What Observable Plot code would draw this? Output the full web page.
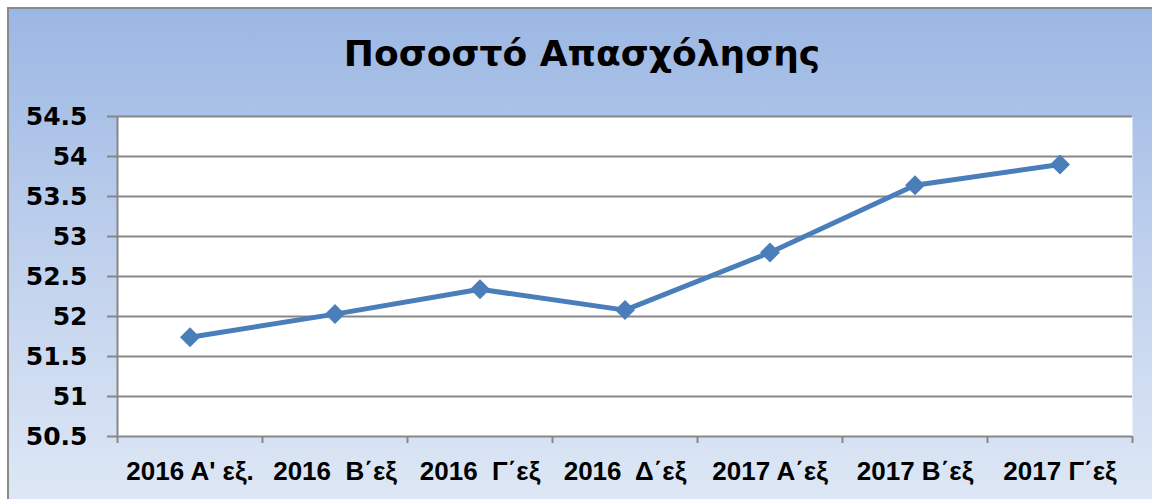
<!DOCTYPE html>
<html>
<head>
<meta charset="utf-8">
<script src="https://cdn.jsdelivr.net/npm/d3@7"></script>
<script src="https://cdn.jsdelivr.net/npm/@observablehq/plot@0.6"></script>
<style>
  body { margin: 0; background: white; }
  #wrap { position: relative; width: 1152px; height: 499px; background: white; overflow: hidden; }
  #bg { position: absolute; left: 7px; top: 7px; right: 0; bottom: 0;
        border-left: 2px solid #8a8a8a; border-top: 2px solid #8a8a8a;
        background: linear-gradient(to bottom, #9bb7e3 0%, #c3d3ee 55%, #dde7f5 100%); }
  #title { position: absolute; left: 0; width: 1164px; top: 33px; text-align: center;
           font-family: "DejaVu Sans", sans-serif; font-weight: bold; font-size: 36px; color: #000; }
  #chart { position: absolute; left: 0; top: 0; }
  #chart svg { white-space: pre; }
</style>
</head>
<body>
<div id="wrap">
  <div id="bg"></div>
  <div id="title">Ποσοστό Απασχόλησης</div>
  <div id="chart"></div>
</div>
<script>
const title = "Ποσοστό Απασχόλησης";
const categories = ["2016 Α' εξ.", "2016  Β΄εξ", "2016  Γ΄εξ", "2016  Δ΄εξ", "2017 Α΄εξ", "2017 Β΄εξ", "2017 Γ΄εξ"];
const values = [51.74, 52.03, 52.34, 52.08, 52.80, 53.64, 53.90];
const yTicks = [50.5, 51, 51.5, 52, 52.5, 53, 53.5, 54, 54.5];

document.getElementById("title").textContent = title;

const data = categories.map((c, i) => ({cat: c, pos: i + 0.5, value: values[i]}));
const boundaries = d3.range(categories.length + 1);
const centers = data.map(d => d.pos);
const gray = "#878787";
const blue = "#4a7ebb";

const chart = Plot.plot({
  width: 1152,
  height: 499,
  marginLeft: 117,
  marginRight: 20,
  marginTop: 116,
  marginBottom: 63,
  style: {background: "transparent", overflow: "visible"},
  x: {domain: [0, categories.length], axis: null, label: null},
  y: {domain: [50.5, 54.5], axis: null, label: null},
  marks: [
    Plot.frame({fill: "white", stroke: null}),
    Plot.ruleY(yTicks, {stroke: gray, strokeWidth: 2}),
    Plot.axisY({ticks: yTicks, tickSize: 10, tickPadding: 20, tickFormat: d => String(d), label: null,
      stroke: gray, strokeWidth: 2, fill: "black",
      fontFamily: "DejaVu Sans", fontWeight: "bold", fontSize: 25}),
    Plot.ruleX([0], {y1: 50.5, y2: 54.5, stroke: gray, strokeWidth: 2}),
    Plot.axisX({ticks: boundaries, tickSize: 7, tickFormat: () => "", label: null, stroke: gray, strokeWidth: 2}),
    Plot.axisX({ticks: centers, tickSize: 0, tickPadding: 25, label: null,
      tickFormat: p => categories[Math.floor(p)], fill: "black",
      fontFamily: "Liberation Sans", fontWeight: "bold", fontSize: 26}),
    Plot.lineY(data, {x: "pos", y: "value", stroke: blue, strokeWidth: 5}),
    Plot.dot(data, {x: "pos", y: "value", symbol: "diamond2", r: 9, fill: blue, stroke: null})
  ]
});
document.getElementById("chart").appendChild(chart);
</script>
</body>
</html>
